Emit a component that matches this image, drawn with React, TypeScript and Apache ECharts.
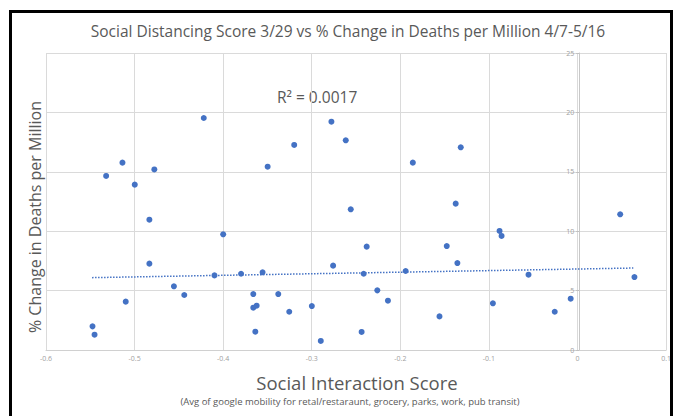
import React, { useEffect, useRef } from "react";
import * as echarts from "echarts";

const xValues = [
  -0.4219, -0.5137, -0.4777, -0.5321, -0.4998, -0.4833,
  -0.40, -0.4833, -0.4098, -0.4556, -0.4439, -0.51, -0.5475, -0.5452,
  -0.2778, -0.2616, -0.3198, -0.3498, -0.256,
  -0.238, -0.2759, -0.3798, -0.3555, -0.2414, -0.366, -0.3378, -0.226, -0.214,
  -0.366, -0.3622, -0.3254, -0.2999, -0.3637, -0.2437, -0.2898,
  -0.1318, -0.1859, -0.1375,
  -0.088, -0.0857, -0.1476, -0.1356, -0.194, -0.0553, 0.0643, -0.0077, -0.0955, -0.0257, -0.1558,
  0.0482,
];
const yValues = [
  19.53, 15.77, 15.2, 14.65, 13.92, 10.97,
  9.74, 7.27, 6.28, 5.36, 4.63, 4.07, 1.99, 1.29,
  19.22, 17.65, 17.26, 15.43, 11.84,
  8.7, 7.1, 6.42, 6.54, 6.42, 4.71, 4.71, 5.02, 4.15,
  3.56, 3.73, 3.22, 3.7, 1.54, 1.52, 0.76,
  17.06, 15.77, 12.32,
  10.02, 9.6, 8.75, 7.32, 6.65, 6.34, 6.14, 4.32, 3.93, 3.22, 2.83,
  11.42,
];
const trendX = [-0.548, 0.063];
const trendY = [6.09, 6.9];

const titleText = "Social Distancing Score 3/29 vs % Change in Deaths per Million 4/7-5/16";
const xName = "Social Interaction Score";
const xSub = "(Avg of google mobility for retal/restaraunt, grocery, parks, work, pub transit)";
const yName = "% Change in Deaths per Million";
const r2Text = "R² = 0.0017";

const GRID_LEFT = 46;
const GRID_RIGHT = 6;
const CHART_W = 674;
const X_MIN = -0.6;
const X_MAX = 0.1;

export default function App() {
  const ref = useRef<HTMLDivElement>(null);
  useEffect(() => {
    const chart = echarts.init(ref.current!, null, { renderer: "svg" });
    const font = "'Open Sans', 'Noto Sans', sans-serif";
    const grey = "#595959";
    const plotW = CHART_W - GRID_LEFT - GRID_RIGHT;
    const zeroOffset = ((0 - X_MIN) / (X_MAX - X_MIN)) * plotW;
    chart.setOption({
      animation: false,
      backgroundColor: "#ffffff",
      grid: { left: GRID_LEFT, right: GRID_RIGHT, top: 53, bottom: 66, containLabel: false },
      xAxis: {
        type: "value",
        min: X_MIN,
        max: X_MAX,
        interval: 0.1,
        axisLine: { show: true, onZero: false, lineStyle: { color: "#d0d0d0", width: 1 } },
        axisTick: { show: false },
        axisLabel: {
          fontSize: 7,
          color: "#a0a0a0",
          margin: 5,
          fontFamily: font,
          formatter: (v: number) => {
            const r = Math.round(v * 10) / 10;
            return r === 0 ? "0" : r.toFixed(1);
          },
        },
        splitLine: { show: true, lineStyle: { color: "#dadada", width: 1 } },
      },
      yAxis: {
        type: "value",
        min: 0,
        max: 25,
        interval: 5,
        offset: -zeroOffset,
        axisLine: { show: true, onZero: false, lineStyle: { color: "#c8c8c8", width: 1 } },
        axisTick: { show: true, length: 3, lineStyle: { color: "#c0c0c0" } },
        axisLabel: { fontSize: 7, color: "#a0a0a0", margin: 5, fontFamily: font },
        splitLine: { show: true, lineStyle: { color: "#dadada", width: 1 } },
      },
      series: [
        {
          type: "line",
          data: trendX.map((x, i) => [x, trendY[i]]),
          symbol: "none",
          lineStyle: { color: "#4472C4", width: 1.5, type: "dotted" },
          z: 1,
        },
        {
          type: "scatter",
          data: xValues.map((x, i) => [x, yValues[i]]),
          symbolSize: 6,
          itemStyle: { color: "#4472C4", opacity: 1 },
          z: 3,
        },
      ],
      graphic: [
        {
          type: "rect",
          shape: { x: 10.5, y: 11.5, width: 661, height: 430 },
          style: { fill: "none", stroke: "#000000", lineWidth: 3 },
          silent: true,
        },
        {
          type: "text",
          x: 348,
          y: 31,
          style: { text: titleText, fontSize: 15.5, fontFamily: font, fill: grey, textAlign: "center", textVerticalAlign: "middle" },
        },
        {
          type: "text",
          x: 277,
          y: 97,
          style: { text: r2Text, fontSize: 15.5, fontFamily: font, fill: grey, textAlign: "left", textVerticalAlign: "middle" },
        },
        {
          type: "text",
          x: 357,
          y: 382,
          style: { text: xName, fontSize: 18.5, fontFamily: font, fill: grey, textAlign: "center", textVerticalAlign: "middle" },
        },
        {
          type: "text",
          x: 350,
          y: 401,
          style: { text: xSub, fontSize: 9.5, fontFamily: font, fill: grey, textAlign: "center", textVerticalAlign: "middle" },
        },
        {
          type: "text",
          x: 35,
          y: 217,
          rotation: Math.PI / 2,
          style: { text: yName, fontSize: 16, fontFamily: font, fill: grey, textAlign: "center", textVerticalAlign: "middle" },
        },
      ],
    });
    return () => chart.dispose();
  }, []);
  return (
    <div
      ref={ref}
      style={{ position: "absolute", left: 0, top: 0, width: 674, height: 416 }}
    />
  );
}
